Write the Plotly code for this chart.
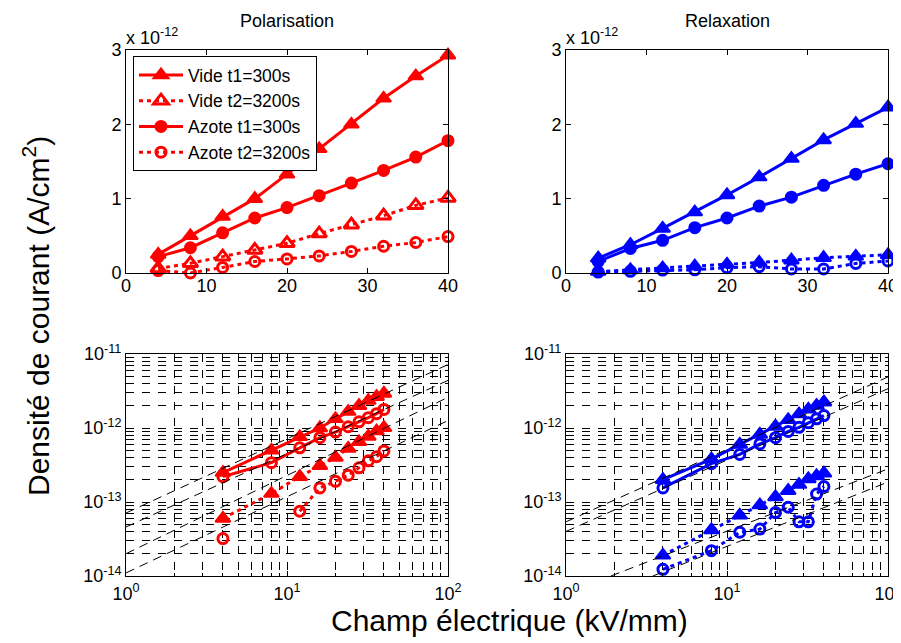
import plotly.graph_objects as go

# ---------------- data ----------------
E = [4, 8, 12, 16, 20, 24, 28, 32, 36, 40]  # kV/mm

# current density, in units of 1e-12 A/cm2
pol_vide_t1 = [0.25, 0.50, 0.76, 1.00, 1.33, 1.67, 2.00, 2.35, 2.65, 2.93]
pol_vide_t2 = [0.06, 0.13, 0.22, 0.31, 0.40, 0.53, 0.65, 0.77, 0.91, 1.01]
pol_azote_t1 = [0.22, 0.34, 0.54, 0.74, 0.88, 1.04, 1.21, 1.38, 1.56, 1.78]
pol_azote_t2 = [0.032, 0.0, 0.075, 0.155, 0.19, 0.23, 0.29, 0.36, 0.41, 0.49]

rel_vide_t1 = [0.20, 0.38, 0.60, 0.82, 1.05, 1.29, 1.54, 1.79, 2.01, 2.23]
rel_vide_t2 = [0.019, 0.042, 0.066, 0.091, 0.117, 0.142, 0.172, 0.205, 0.225, 0.245]
rel_azote_t1 = [0.155, 0.33, 0.44, 0.61, 0.74, 0.90, 1.02, 1.18, 1.33, 1.47]
rel_azote_t2 = [0.0123, 0.022, 0.039, 0.043, 0.072, 0.085, 0.054, 0.054, 0.128, 0.162]

# power-law fit lines (A/cm2), endpoints
pol_fit_x = [[1, 100], [1, 100], [1, 100], [1, 100]]
pol_fit_y = [[7.1e-14, 7.2e-12], [4.6e-14, 4.4e-12], [2.0e-14, 2.6e-12], [1.1e-14, 1.26e-12]]
rel_fit_x = [[1, 100], [1, 100], [1.9, 100], [3.46, 100]]
rel_fit_y = [[5.4e-14, 4.9e-12], [4.0e-14, 3.4e-12], [1.0e-14, 2.8e-13], [1.0e-14, 1.86e-13]]

names = ["Vide t1=300s", "Vide t2=3200s", "Azote t1=300s", "Azote t2=3200s"]
lin_xticks = [0, 10, 20, 30, 40]
lin_yticks = [0, 1, 2, 3]
log_xticks = [1, 10, 100]
log_xtext = ["10<sup>0</sup>", "10<sup>1</sup>", "10<sup>2</sup>"]
log_yticks = [1e-14, 1e-13, 1e-12, 1e-11]
log_ytext = ["10<sup>-14</sup>", "10<sup>-13</sup>", "10<sup>-12</sup>", "10<sup>-11</sup>"]
minor_x = [2, 3, 4, 5, 6, 7, 8, 9, 20, 30, 40, 50, 60, 70, 80, 90]
minor_y = [m * d for d in (1e-14, 1e-13, 1e-12) for m in range(2, 10)]

RED = "#ff0000"
BLUE = "#0000ff"
FONT = "Liberation Sans, Arial, sans-serif"

# page geometry: the html body has an 8px margin, so the figure starts at (8, 8)
OFF = 8
W, H = 901 - OFF, 643 - OFF


def px_x(p):
    return (p - OFF) / W


def px_y(p):
    return 1 - (p - OFF) / H


def to_abs(vals):
    return [v * 1e-12 if v > 0 else None for v in vals]


fig = go.Figure()


def add(xa, ya, y, color, symbol, dash, msize, mlw, name=None, showlegend=False):
    fig.add_trace(go.Scatter(
        x=E, y=y, xaxis=xa, yaxis=ya, mode="lines+markers",
        name=name, showlegend=showlegend, cliponaxis=False,
        line=dict(color=color, width=3, dash=dash),
        marker=dict(symbol=symbol, size=msize, color=color,
                    line=dict(color=color, width=mlw)),
    ))


DOT = "4px,4px"
TRI = 13
# top-left: polarisation (linear)
add("x", "y", pol_vide_t1, RED, "triangle-up", "solid", TRI, 2, names[0], True)
add("x", "y", pol_vide_t2, RED, "triangle-up-open", DOT, TRI, 3, names[1], True)
add("x", "y", pol_azote_t1, RED, "circle", "solid", 11, 2, names[2], True)
add("x", "y", pol_azote_t2, RED, "circle-open", DOT, 10, 3, names[3], True)
# top-right: relaxation (linear)
add("x2", "y2", rel_vide_t1, BLUE, "triangle-up", "solid", TRI, 2)
add("x2", "y2", rel_vide_t2, BLUE, "triangle-up", DOT, TRI, 2)
add("x2", "y2", rel_azote_t1, BLUE, "circle", "solid", 11, 2)
add("x2", "y2", rel_azote_t2, BLUE, "circle-open", DOT, 10, 3)
# bottom-left: polarisation (log-log)
add("x3", "y3", to_abs(pol_vide_t1), RED, "triangle-up", "solid", TRI, 2)
add("x3", "y3", to_abs(pol_vide_t2), RED, "triangle-up", DOT, TRI, 2)
add("x3", "y3", to_abs(pol_azote_t1), RED, "circle-open", "solid", 10, 3)
add("x3", "y3", to_abs(pol_azote_t2), RED, "circle-open", DOT, 10, 3)
# bottom-right: relaxation (log-log)
add("x4", "y4", to_abs(rel_vide_t1), BLUE, "triangle-up", "solid", TRI, 2)
add("x4", "y4", to_abs(rel_vide_t2), BLUE, "triangle-up", DOT, TRI, 2)
add("x4", "y4", to_abs(rel_azote_t1), BLUE, "circle-open", "solid", 10, 3)
add("x4", "y4", to_abs(rel_azote_t2), BLUE, "circle-open", DOT, 10, 3)

FITLINE = dict(color="black", width=1, dash="9px,6px")
for fx, fy in zip(pol_fit_x, pol_fit_y):
    fig.add_trace(go.Scatter(x=fx, y=fy, xaxis="x3", yaxis="y3", mode="lines",
                             showlegend=False, line=FITLINE))
for fx, fy in zip(rel_fit_x, rel_fit_y):
    fig.add_trace(go.Scatter(x=fx, y=fy, xaxis="x4", yaxis="y4", mode="lines",
                             showlegend=False, line=FITLINE))

XL = [px_x(126), px_x(448)]
XR = [px_x(566), px_x(888)]
YT = [px_y(273), px_y(50)]
YB = [px_y(576), px_y(354)]

tickfont = dict(family=FONT, size=18, color="black")
common = dict(showline=True, linecolor="black", linewidth=1, mirror="ticks",
              ticks="inside", ticklen=5, tickcolor="black", zeroline=False,
              tickfont=tickfont, showgrid=False, automargin=False,
              ticklabeloverflow="allow")
GRID = dict(showgrid=True, gridcolor="black", gridwidth=1, griddash="8px,8px")


def logx(dom, anchor):
    d = dict(common, domain=dom, anchor=anchor, type="log", range=[0, 2],
             tickmode="array", tickvals=log_xticks, ticktext=log_xtext,
             ticklabelstandoff=1,
             minor=dict(tickmode="array", tickvals=minor_x, ticks="inside", ticklen=3,
                        tickcolor="black", **GRID))
    d.update(GRID)
    return d


def logy(dom, anchor):
    d = dict(common, domain=dom, anchor=anchor, type="log", range=[-14, -11],
             tickmode="array", tickvals=log_yticks, ticktext=log_ytext,
             minor=dict(tickmode="array", tickvals=minor_y, ticks="inside", ticklen=3,
                        tickcolor="black", **GRID))
    d.update(GRID)
    return d


fig.update_layout(
    template="none",
    width=W, height=H,
    margin=dict(l=0, r=0, t=0, b=0, pad=0, autoexpand=False),
    paper_bgcolor="white", plot_bgcolor="white",
    font=dict(family=FONT, color="black"),
    xaxis=dict(common, domain=XL, anchor="y", range=[0, 40], tickvals=lin_xticks,
               ticklabelstandoff=-4),
    yaxis=dict(common, domain=YT, anchor="x", range=[0, 3], tickvals=lin_yticks),
    xaxis2=dict(common, domain=XR, anchor="y2", range=[0, 40], tickvals=lin_xticks,
                ticklabelstandoff=-4),
    yaxis2=dict(common, domain=YT, anchor="x2", range=[0, 3], tickvals=lin_yticks),
    xaxis3=logx(XL, "y3"),
    yaxis3=logy(YB, "x3"),
    xaxis4=logx(XR, "y4"),
    yaxis4=logy(YB, "x4"),
    legend=dict(x=px_x(133), y=px_y(56), xanchor="left", yanchor="top",
                bgcolor="white", bordercolor="black", borderwidth=1, itemwidth=44,
                font=dict(family=FONT, size=17.5, color="black"), tracegroupgap=0),
    showlegend=True,
)

ann = [
    dict(text="Polarisation", x=px_x(287), y=px_y(21), xanchor="center", yanchor="middle",
         font=dict(size=18)),
    dict(text="Relaxation", x=px_x(727), y=px_y(21), xanchor="center", yanchor="middle",
         font=dict(size=18)),
    dict(text="x 10<sup>-12</sup>", x=px_x(124), y=px_y(50), xanchor="left", yanchor="bottom",
         font=dict(size=18)),
    dict(text="x 10<sup>-12</sup>", x=px_x(564), y=px_y(50), xanchor="left", yanchor="bottom",
         font=dict(size=18)),
    dict(text="Densité de courant (A/cm<sup>2</sup>)", x=px_x(36), y=px_y(316),
         xanchor="center", yanchor="middle", textangle=-90, font=dict(size=30)),
    dict(text="Champ électrique (kV/mm)", x=px_x(510), y=px_y(620),
         xanchor="center", yanchor="middle", font=dict(size=30)),
]
for a in ann:
    a.update(xref="paper", yref="paper", showarrow=False)
    a["font"] = dict(family=FONT, color="black", **a["font"])
fig.update_layout(annotations=ann)

fig.write_html("out.html")
